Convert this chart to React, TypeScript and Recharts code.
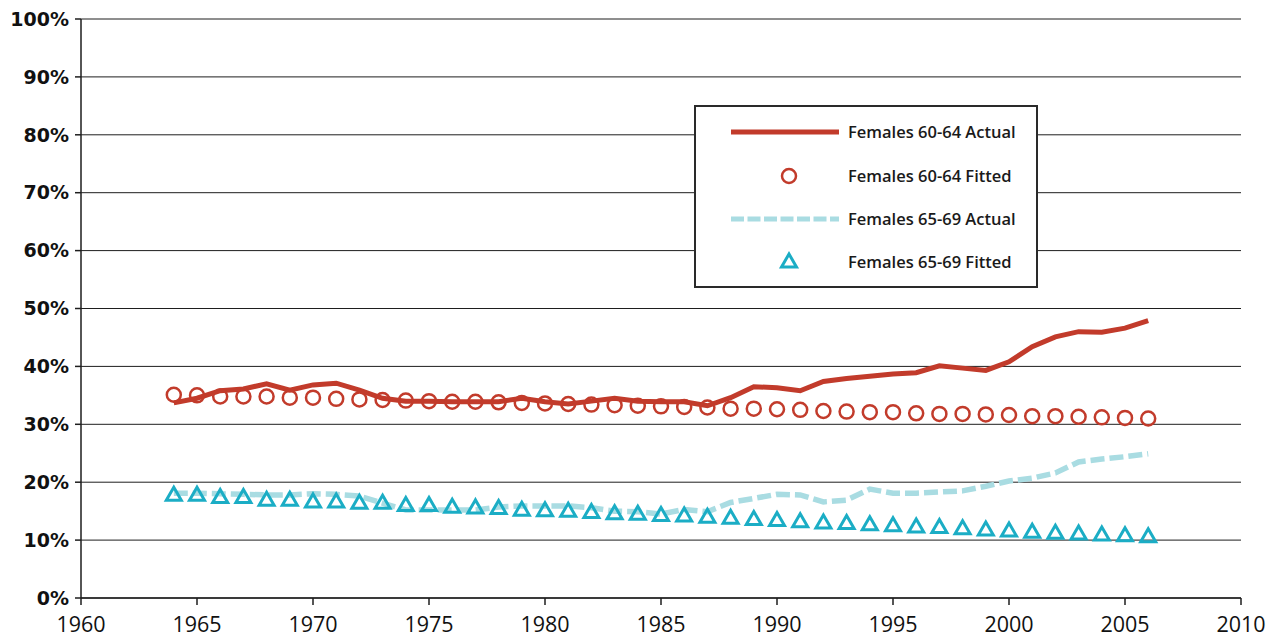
import React from "react";
import {
  ComposedChart,
  Line,
  XAxis,
  YAxis,
  CartesianGrid,
  Legend
} from "recharts";

const years = [
  1964, 1965, 1966, 1967, 1968, 1969, 1970, 1971, 1972, 1973, 1974, 1975, 1976, 1977, 1978,
  1979, 1980, 1981, 1982, 1983, 1984, 1985, 1986, 1987, 1988, 1989, 1990, 1991, 1992, 1993,
  1994, 1995, 1996, 1997, 1998, 1999, 2000, 2001, 2002, 2003, 2004, 2005, 2006
];

const f6064Actual = [
  33.7, 34.5, 35.8, 36.1, 37.0, 35.9, 36.8, 37.1, 35.9, 34.5, 34.0, 34.0, 33.9, 33.9, 33.9,
  34.5, 33.9, 33.5, 34.0, 34.5, 34.0, 33.9, 33.9, 33.2, 34.6, 36.5, 36.3, 35.8, 37.4, 37.9,
  38.3, 38.7, 38.9, 40.1, 39.7, 39.3, 40.8, 43.4, 45.1, 46.0, 45.9, 46.6, 47.9
];

const f6064Fitted = [
  35.1, 35.0, 34.8, 34.8, 34.8, 34.6, 34.6, 34.4, 34.3, 34.2, 34.1, 34.0, 33.9, 33.9, 33.8,
  33.7, 33.6, 33.5, 33.4, 33.3, 33.2, 33.1, 33.0, 32.9, 32.7, 32.7, 32.6, 32.5, 32.3, 32.2,
  32.1, 32.1, 31.9, 31.8, 31.8, 31.7, 31.6, 31.4, 31.4, 31.3, 31.2, 31.1, 31.0
];

const f6569Actual = [
  18.1, 18.1, 18.0, 17.9, 17.8, 17.8, 18.0, 17.9, 17.6, 16.4, 15.2, 15.2, 15.2, 15.2, 15.7,
  15.9, 15.9, 15.9, 15.6, 15.0, 14.9, 14.5, 15.3, 14.9, 16.5, 17.2, 17.9, 17.8, 16.6, 16.9,
  18.8, 18.1, 18.1, 18.3, 18.5, 19.3, 20.2, 20.7, 21.6, 23.5, 24.0, 24.4, 24.9
];

const f6569Fitted = [
  17.8, 17.8, 17.4, 17.4, 16.9, 16.9, 16.6, 16.6, 16.4, 16.4, 16.0, 16.0, 15.7, 15.6, 15.5,
  15.2, 15.1, 15.0, 14.8, 14.6, 14.5, 14.3, 14.2, 14.0, 13.8, 13.6, 13.4, 13.2, 13.0, 12.9,
  12.7, 12.5, 12.3, 12.2, 12.0, 11.8, 11.6, 11.4, 11.2, 11.1, 10.9, 10.8, 10.6
];

const xTicks = [1960, 1965, 1970, 1975, 1980, 1985, 1990, 1995, 2000, 2005, 2010];
const yTicks = [0, 10, 20, 30, 40, 50, 60, 70, 80, 90, 100];

const seriesNames = [
  "Females 60-64 Actual",
  "Females 60-64 Fitted",
  "Females 65-69 Actual",
  "Females 65-69 Fitted"
];

const RED = "#C23B2B";
const LIGHT_BLUE = "#A9DCE2";
const TEAL = "#1BADC5";

const rows = years.map((year, i) => ({
  year,
  a6064: f6064Actual[i],
  p6064: f6064Fitted[i],
  a6569: f6569Actual[i],
  p6569: f6569Fitted[i]
}));

const CircleDot = (props: any) => {
  const { cx, cy, index } = props;
  if (cx == null || cy == null) return null;
  return <circle key={`c${index}`} cx={cx} cy={cy} r={7} fill="none" stroke={RED} strokeWidth={2.5} />;
};

const TriangleDot = (props: any) => {
  const { cx, cy, index } = props;
  if (cx == null || cy == null) return null;
  const h = 13;
  const w = 15;
  const top = cy - h * 0.6;
  const bottom = cy + h * 0.4;
  return (
    <polygon
      key={`t${index}`}
      points={`${cx},${top} ${cx - w / 2},${bottom} ${cx + w / 2},${bottom}`}
      fill="none"
      stroke={TEAL}
      strokeWidth={3}
      strokeLinejoin="miter"
    />
  );
};

const LegendBox = () => {
  const rowY = [27, 71, 114, 157];
  return (
    <div
      style={{
        width: 344,
        height: 183,
        boxSizing: "border-box",
        border: "2px solid #2a2a2a",
        background: "#fff",
        position: "relative"
      }}
    >
      <svg width={340} height={179} style={{ position: "absolute", left: 0, top: 0 }}>
        <line x1={35} x2={143} y1={rowY[0] - 2} y2={rowY[0] - 2} stroke={RED} strokeWidth={5} />
        <circle cx={93} cy={rowY[1] - 2} r={7} fill="none" stroke={RED} strokeWidth={2.5} />
        <line
          x1={35}
          x2={143}
          y1={rowY[2] - 2}
          y2={rowY[2] - 2}
          stroke={LIGHT_BLUE}
          strokeWidth={5}
          strokeDasharray="13 3.5"
        />
        <polygon
          points={`93,${rowY[3] - 10} 85.5,${rowY[3] + 3} 100.5,${rowY[3] + 3}`}
          fill="none"
          stroke={TEAL}
          strokeWidth={3}
        />
        {seriesNames.map((name, i) => (
          <text
            key={name}
            x={152}
            y={rowY[i] + 4}
            fontSize={16.5}
            fontWeight={600}
            fill="#1a1a1a"
            fontFamily="'Open Sans', sans-serif"
          >
            {name}
          </text>
        ))}
      </svg>
    </div>
  );
};

export default function App() {
  return (
    <div style={{ position: "absolute", left: 0, top: 0, width: 1277, height: 640, background: "#fff" }}>
      <ComposedChart
        width={1277}
        height={640}
        data={rows}
        margin={{ top: 19, right: 36, bottom: 2, left: 0 }}
      >
        <CartesianGrid vertical={false} stroke="#1e1e1e" strokeWidth={1} />
        <XAxis
          type="number"
          dataKey="year"
          domain={[1960, 2010]}
          ticks={xTicks}
          interval={0}
          height={40}
          tickSize={7}
          tickMargin={12}
          axisLine={{ stroke: "#1e1e1e", strokeWidth: 1.5 }}
          tickLine={{ stroke: "#1e1e1e", strokeWidth: 1.5 }}
          tick={{ fill: "#111", fontSize: 21.5, fontFamily: "'Open Sans', sans-serif" }}
        />
        <YAxis
          type="number"
          domain={[0, 100]}
          ticks={yTicks}
          interval={0}
          width={81}
          tickSize={6}
          tickMargin={6}
          tickFormatter={(v: number) => `${v}%`}
          axisLine={{ stroke: "#1e1e1e", strokeWidth: 1.5 }}
          tickLine={{ stroke: "#1e1e1e", strokeWidth: 1.5 }}
          tick={{ fill: "#111", fontSize: 19, fontWeight: 700, fontFamily: "'DejaVu Sans', sans-serif" }}
        />
        <Legend
          layout="vertical"
          align="center"
          verticalAlign="middle"
          wrapperStyle={{ left: 694, top: 105, width: 344, height: 183 }}
          content={() => <LegendBox />}
        />
        <Line
          dataKey="a6064"
          name={seriesNames[0]}
          stroke={RED}
          strokeWidth={5}
          dot={false}
          activeDot={false}
          isAnimationActive={false}
        />
        <Line
          dataKey="p6064"
          name={seriesNames[1]}
          stroke="none"
          dot={CircleDot}
          activeDot={false}
          isAnimationActive={false}
        />
        <Line
          dataKey="a6569"
          name={seriesNames[2]}
          stroke={LIGHT_BLUE}
          strokeWidth={5.5}
          strokeDasharray="14 5"
          dot={false}
          activeDot={false}
          isAnimationActive={false}
        />
        <Line
          dataKey="p6569"
          name={seriesNames[3]}
          stroke="none"
          dot={TriangleDot}
          activeDot={false}
          isAnimationActive={false}
        />
      </ComposedChart>
    </div>
  );
}
